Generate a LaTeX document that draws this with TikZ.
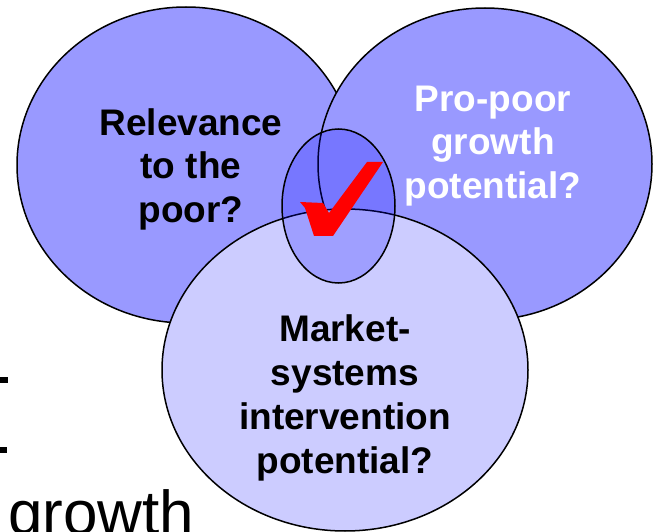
\documentclass[tikz,border=0pt]{standalone}
\usepackage{fontspec}
\setmainfont{Liberation Sans}
\usetikzlibrary{shapes.geometric}
\definecolor{circblue}{RGB}{153,153,255}
\definecolor{circlight}{RGB}{204,204,255}
\definecolor{checkred}{RGB}{255,0,0}
\tikzset{
  venn/.style={ellipse, draw=black, line width=1.5pt, inner sep=0pt},
  lbl/.style={font=\fontsize{37}{44}\selectfont\bfseries, align=center, inner sep=0pt, anchor=base},
}
\begin{document}
\begin{tikzpicture}[x=1pt,y=-1pt]
\useasboundingbox (0,0) rectangle (654,532);
\fill[white] (0,0) rectangle (654,532);
% background slide fragments
\fill[black] (0,377) rectangle (7.5,383);
\fill[black] (0,447) rectangle (6.5,453);
\node[font=\fontsize{62}{70}\selectfont, inner sep=0pt, anchor=base west] (growthtxt) at (8,534) {growth};
% circles
\node[venn, fill=circblue, minimum width=338pt, minimum height=316pt] (left) at (186,165) {};
\node[venn, fill=circblue, minimum width=334pt, minimum height=312pt] (right) at (485,164) {};
\node[venn, fill=circlight, minimum width=366pt, minimum height=322pt] (bottom) at (345,370) {};
\node[venn, fill=blue, fill opacity=0.22, minimum width=113pt, minimum height=154pt] (centre) at (338.5,206) {};
% check mark
\fill[checkred] (300,202) -- (323,203) -- (329,213) -- (367,162) -- (383,162) -- (333,236) -- (314,236) -- (305,208) -- cycle;
% labels (base anchor = baseline of the last line)
\node[lbl] (relevance) at (191,223) {Relevance\\to the\\poor?};
\node[lbl, text=white] (propoor) at (493,199) {Pro-poor\\growth\\potential?};
\node[lbl] (market) at (345,473) {Market-\\systems\\intervention\\potential?};
\end{tikzpicture}
\end{document}
